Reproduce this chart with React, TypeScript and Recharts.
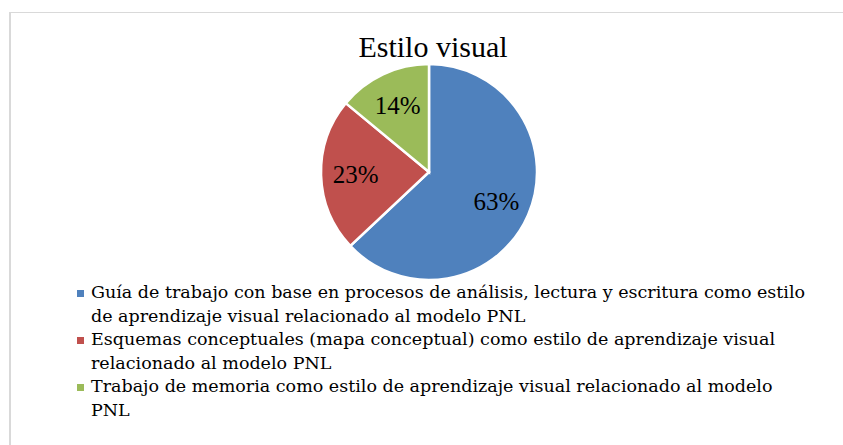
import React from "react";
import { PieChart, Pie, Cell, Legend } from "recharts";

const categories = [
  "Guía de trabajo con base en procesos de análisis, lectura y escritura como estilo de aprendizaje visual relacionado al modelo PNL",
  "Esquemas conceptuales (mapa conceptual) como estilo de aprendizaje visual relacionado al modelo PNL",
  "Trabajo de memoria como estilo de aprendizaje visual relacionado al modelo PNL",
];
const values = [63, 23, 14];
const colors = ["#4F81BD", "#C0504D", "#9BBB59"];
const title = "Estilo visual";

const data = categories.map((name, i) => ({ name, value: values[i] }));

const SERIF = "'Liberation Serif', serif";
const LEGEND_FONT = "'DejaVu Serif', serif";
const RADIAN = Math.PI / 180;

function renderLabel(props: any) {
  const { cx, cy, midAngle, outerRadius, percent } = props;
  const r = outerRadius * 0.68;
  const x = cx + r * Math.cos(-midAngle * RADIAN);
  const y = cy + r * Math.sin(-midAngle * RADIAN);
  return (
    <text
      x={x}
      y={y}
      fill="#000"
      textAnchor="middle"
      dominantBaseline="central"
      fontFamily={SERIF}
      fontSize={25}
    >
      {`${Math.round(percent * 100)}%`}
    </text>
  );
}

function LegendList() {
  return (
    <div style={{ fontFamily: LEGEND_FONT, fontSize: 17.5, lineHeight: "23.6px", color: "#000" }}>
      {categories.map((name, i) => (
        <div key={name} style={{ display: "flex", alignItems: "flex-start" }}>
          <span
            style={{
              display: "inline-block",
              width: 7,
              height: 7,
              marginTop: 9,
              marginRight: 7,
              flexShrink: 0,
              background: colors[i],
            }}
          />
          <span style={{ fontFamily: LEGEND_FONT }}>{name}</span>
        </div>
      ))}
    </div>
  );
}

export default function App() {
  return (
    <div style={{ position: "absolute", left: 0, top: 0, width: 843, height: 445, background: "#fff", overflow: "hidden" }}>
      <div
        style={{
          position: "absolute",
          left: 9,
          top: 12,
          width: 900,
          height: 500,
          borderTop: "1px solid #d9d9d9",
          borderLeft: "2px solid #d9d9d9",
        }}
      />
      <div
        style={{
          position: "absolute",
          left: 0,
          width: 866,
          top: 29,
          textAlign: "center",
          fontFamily: SERIF,
          fontSize: 30,
          lineHeight: "36px",
          color: "#000",
        }}
      >
        {title}
      </div>
      <div style={{ position: "absolute", left: 0, top: 0 }}>
        <PieChart width={843} height={445} margin={{ top: 0, right: 0, bottom: 0, left: 0 }}>
          <Pie
            data={data}
            dataKey="value"
            nameKey="name"
            cx={429}
            cy={172}
            outerRadius={108}
            startAngle={90}
            endAngle={-270}
            stroke="#fff"
            strokeWidth={2.5}
            label={renderLabel}
            labelLine={false}
            isAnimationActive={false}
          >
            {data.map((d, i) => (
              <Cell key={d.name} fill={colors[i]} />
            ))}
          </Pie>
          <Legend
            content={<LegendList />}
            wrapperStyle={{ position: "absolute", left: 77, top: 281, width: 734, bottom: "auto" }}
          />
        </PieChart>
      </div>
    </div>
  );
}
